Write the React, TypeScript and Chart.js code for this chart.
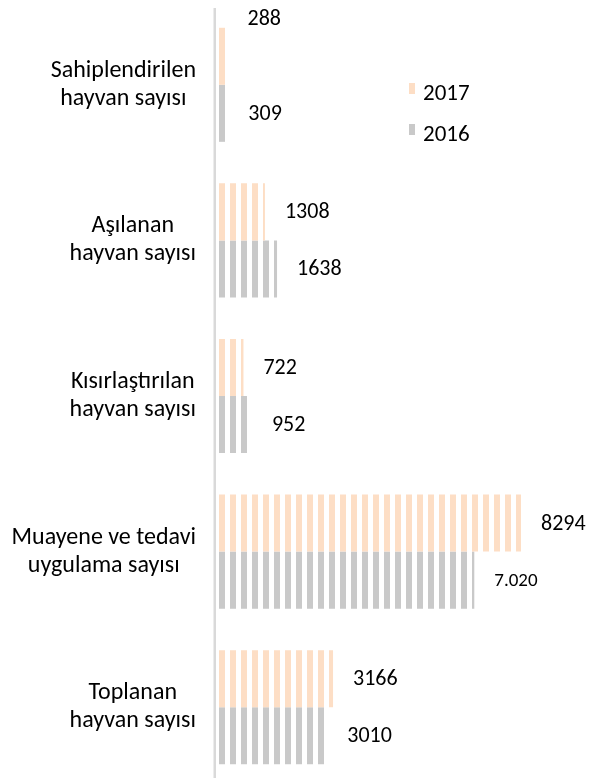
import React, { useEffect, useRef } from "react";
import { Chart, registerables } from "chart.js";

Chart.register(...registerables);

// ---- data ----
const categories: string[][] = [
  ["Sahiplendirilen", "hayvan sayısı"],
  ["Aşılanan", "hayvan sayısı"],
  ["Kısırlaştırılan", "hayvan sayısı"],
  ["Muayene ve tedavi", "uygulama sayısı"],
  ["Toplanan", "hayvan sayısı"],
];
const seriesNames = ["2017", "2016"];
const values2017 = [288, 1308, 722, 8294, 3166];
const values2016 = [309, 1638, 952, 7020, 3010];
const valueLabels2017 = ["288", "1308", "722", "8294", "3166"];
const valueLabels2016 = ["309", "1638", "952", "7.020", "3010"];
const xMax = 10286;

// ---- style ----
const PEACH = "#FDDEC5";
const GRAY = "#C9C9C9";
const AXIS = "#D9D9D9";
const FONT = "Carlito, Lato, sans-serif";
const CAT_SIZE = 24;
const VALUE_SIZE = 22;
const LEGEND_SIZE = 23;

function stripes(color: string, offset: number): CanvasPattern | string {
  const c = document.createElement("canvas");
  c.width = 11;
  c.height = 4;
  const g = c.getContext("2d");
  if (!g) return color;
  g.fillStyle = color;
  g.fillRect(0, 0, 6, 4);
  const p = g.createPattern(c, "repeat");
  if (!p) return color;
  p.setTransform(new DOMMatrix([1, 0, 0, 1, offset, 0]));
  return p;
}

const decorPlugin = {
  id: "decor",
  afterDraw(chart: any) {
    const ctx = chart.ctx as CanvasRenderingContext2D;
    const area = chart.chartArea;
    const yScale = chart.scales.y;
    ctx.save();
    // axis line
    ctx.fillStyle = AXIS;
    ctx.fillRect(area.left - 3.5, area.top + 1, 2.5, area.bottom - area.top);

    // category labels (right-aligned block, centered lines)
    ctx.fillStyle = "#000";
    ctx.font = `${CAT_SIZE}px ${FONT}`;
    ctx.textBaseline = "middle";
    ctx.textAlign = "center";
    const lineH = 28;
    categories.forEach((lines, i) => {
      const cy = yScale.getPixelForValue(i);
      const w = Math.max(...lines.map((l) => ctx.measureText(l).width));
      const cx = 196 - w / 2;
      lines.forEach((l, j) => {
        ctx.fillText(l, cx, cy + (j - (lines.length - 1) / 2) * lineH);
      });
    });

    // value labels
    ctx.textAlign = "left";
    const labelSets = [valueLabels2017, valueLabels2016];
    chart.data.datasets.forEach((ds: any, di: number) => {
      const meta = chart.getDatasetMeta(di);
      meta.data.forEach((bar: any, i: number) => {
        const txt = labelSets[di][i];
        const small = txt.includes(".");
        ctx.font = `${small ? VALUE_SIZE - 3 : VALUE_SIZE}px ${FONT}`;
        let dy = 0;
        if (di === 0 && i === 0) dy = -38;
        ctx.fillText(txt, bar.x + 20, bar.y + dy + 1);
      });
    });

    // legend
    ctx.font = `${LEGEND_SIZE}px ${FONT}`;
    const legendY = [93, 134];
    const legendColors = [PEACH, GRAY];
    seriesNames.forEach((name, k) => {
      ctx.fillStyle = legendColors[k];
      ctx.fillRect(409, legendY[k] - 10, 6, 11);
      ctx.fillStyle = "#000";
      ctx.fillText(name, 423, legendY[k] + 1);
    });
    ctx.restore();
  },
};

export default function App() {
  const ref = useRef<HTMLCanvasElement | null>(null);
  useEffect(() => {
    if (!ref.current) return;
    const chart = new Chart(ref.current, {
      type: "bar",
      data: {
        labels: categories.map((c) => c.join(" ")),
        datasets: [
          {
            label: seriesNames[0],
            data: values2017,
            backgroundColor: (c: any) =>
              stripes(PEACH, c.chart.chartArea ? c.chart.chartArea.left + 2 : 0),
            borderWidth: 0,
            categoryPercentage: 0.733,
            barPercentage: 1,
          },
          {
            label: seriesNames[1],
            data: values2016,
            backgroundColor: (c: any) =>
              stripes(GRAY, c.chart.chartArea ? c.chart.chartArea.left + 2 : 0),
            borderWidth: 0,
            categoryPercentage: 0.733,
            barPercentage: 1,
          },
        ],
      },
      options: {
        indexAxis: "y",
        responsive: false,
        animation: false,
        events: [],
        layout: { padding: { top: 7, right: 0, bottom: 0, left: 0 } },
        scales: {
          x: { display: false, min: 0, max: xMax },
          y: {
            grid: { display: false },
            border: { display: false },
            ticks: { display: false },
            afterFit: (s: any) => {
              s.width = 217;
            },
          },
        },
        plugins: {
          legend: { display: false },
          tooltip: { enabled: false },
        },
      },
      plugins: [decorPlugin],
    } as any);
    return () => chart.destroy();
  }, []);
  return (
    <div
      style={{
        position: "fixed",
        left: 0,
        top: 0,
        width: 594,
        height: 778,
        overflow: "hidden",
        background: "#fff",
      }}
    >
      <canvas ref={ref} width={594} height={785} style={{ display: "block" }} />
    </div>
  );
}
